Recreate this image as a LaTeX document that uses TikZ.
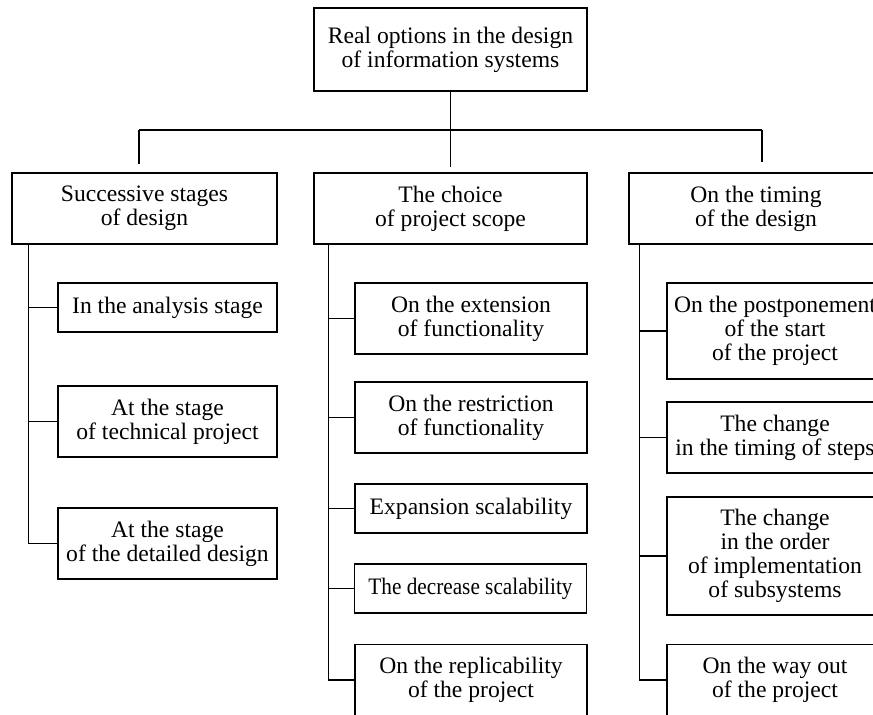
\documentclass[tikz,border=0pt]{standalone}
\usepackage{fontspec}
\setmainfont{Liberation Serif}
\usepackage{tikz}
\usetikzlibrary{calc}

\begin{document}
\begin{tikzpicture}[x=0.5pt, y=-0.5pt, line width=0.7pt,
  box/.style={draw, align=center, inner sep=0pt, fill=white,
    font=\fontsize{11.8}{12}\selectfont},
  groupbox/.style={box, minimum height=35.5pt},
  itembox/.style={box, minimum height=35.5pt},
  shortbox/.style={box, minimum height=24.5pt}]
  \useasboundingbox (0,0) rectangle (873,715);
  \clip (0,0) rectangle (873,715);
  \fill[white] (0,0) rectangle (873,715);

  % root
  \node[box, minimum width=136.5pt, minimum height=41.5pt] (root) at (450.5,49.5)
    {Real options in the design\\of information systems};

  % three groups
  \node[groupbox, minimum width=132.5pt] (stages) at (144.5,208.5)
    {Successive stages\\of design};
  \node[groupbox, minimum width=136.5pt] (scope) at (450.5,208.5)
    {The choice\\of project scope};
  \node[groupbox, minimum width=127pt] (timing) at (756,208.5)
    {On the timing\\of the design};

  % stages
  \node[shortbox, minimum width=109.5pt] (s1) at (167.5,307.5) {In the analysis stage};
  \node[itembox, minimum width=109.5pt] (s2) at (167.5,421.5) {At the stage\\of technical project};
  \node[itembox, minimum width=109.5pt] (s3) at (167.5,543.5) {At the stage\\of the detailed design};

  % scope
  \node[itembox, minimum width=116pt] (c1) at (471,318.5) {On the extension\\of functionality};
  \node[itembox, minimum width=116pt] (c2) at (471,417.5) {On the restriction\\of functionality};
  \node[shortbox, minimum width=116pt] (c3) at (471,508.5) {Expansion scalability};
  \node[shortbox, minimum width=116pt] (c4) at (470.5,588.5)
    {\scalebox{0.9}[1]{The decrease scalability}};
  \node[itembox, minimum width=116pt] (c5) at (471,680) {On the replicability\\of the project};

  % timing
  \node[box, minimum width=108pt, minimum height=48pt] (t1) at (775,331)
    {On the postponement\\of the start\\of the project};
  \node[itembox, minimum width=108pt] (t2) at (775,437.5) {The change\\in the timing of steps};
  \node[box, minimum width=108pt, minimum height=59pt] (t3) at (775,556)
    {The change\\in the order\\of implementation\\of subsystems};
  \node[itembox, minimum width=108pt] (t4) at (775,680) {On the way out\\of the project};

  % top connectors
  \coordinate (bus) at (450,130);
  \coordinate (dl) at ([xshift=-2.75pt]stages.north);
  \coordinate (dr) at ([xshift=3pt]timing.north);
  \draw[shorten >=2.5pt] (root) -- (scope);
  \draw (bus -| dl) -- (bus -| dr);
  \draw[shorten >=4pt] (bus -| dl) -- (dl);
  \draw[shorten >=5pt] (bus -| dr) -- (dr);

  % spines
  \draw ($(stages.south west)+(17,0)$) coordinate (ls) |- (s3.west);
  \foreach \n in {s1,s2}
    \draw (\n.west) -- (\n.west -| ls);
  \draw ($(scope.south west)+(15,0)$) coordinate (ms) |- (c5.west);
  \foreach \n in {c1,c2,c3,c4}
    \draw (\n.west) -- (\n.west -| ms);
  \draw ($(timing.south west)+(11,0)$) coordinate (rs) |- (t4.west);
  \foreach \n in {t1,t2,t3}
    \draw (\n.west) -- (\n.west -| rs);
\end{tikzpicture}
\end{document}
